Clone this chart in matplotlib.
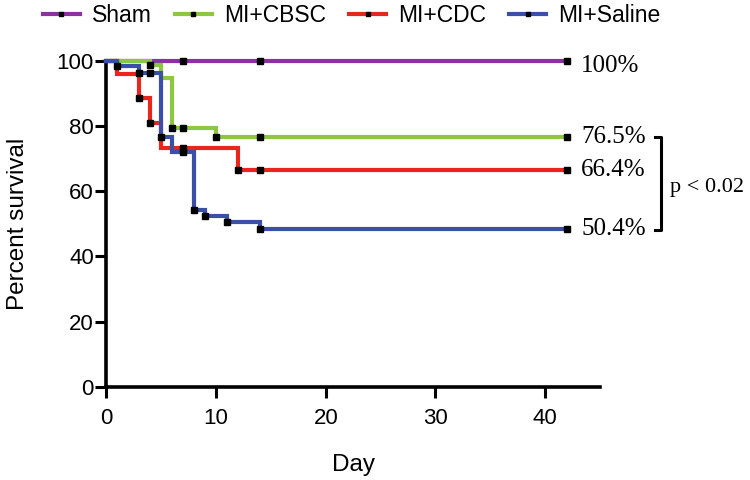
import numpy as np
import matplotlib
matplotlib.use("Agg")
import matplotlib.pyplot as plt
from matplotlib.lines import Line2D

# ----------------------------------------------------
# data (Kaplan-Meier steps)
# ----------------------------------------------------
sham_days = [0, 42]
sham_surv = [100, 100]
sham_censor = [7, 14, 42]

cbsc_days = [0, 4, 5, 6, 10, 42]
cbsc_surv = [100, 98.7, 94.6, 79.3, 76.5, 76.5]
cbsc_censor = [4, 6, 7, 10, 14, 42]

cdc_days = [0, 1, 3, 4, 5, 12, 42]
cdc_surv = [100, 95.8, 88.5, 80.8, 73.1, 66.4, 66.4]
cdc_censor = [3, 4, 7, 12, 14, 42]

saline_days = [0, 1, 3, 5, 6, 8, 9, 11, 14, 42]
saline_surv = [100, 98.4, 96.1, 76.7, 72.1, 54.2, 52.3, 50.4, 48.3, 48.3]
saline_censor = [1, 3, 4, 5, 7, 8, 9, 11, 14, 42]

groups = ["Sham", "MI+CBSC", "MI+CDC", "MI+Saline"]
end_labels = ["100%", "76.5%", "66.4%", "50.4%"]
colors = ["#8C32A0", "#8DC63F", "#E8261E", "#3B4FA8"]

series = [(sham_days, sham_surv, sham_censor),
          (cbsc_days, cbsc_surv, cbsc_censor),
          (cdc_days, cdc_surv, cdc_censor),
          (saline_days, saline_surv, saline_censor)]

plt.rcParams['font.family'] = ['Liberation Sans', 'DejaVu Sans']

fig = plt.figure(figsize=(7.5, 4.8), dpi=100)
ax = fig.add_axes([0.1419, 0.1944, 0.658, 0.679])

# ----------------------------------------------------
# step curves + censor ticks
# ----------------------------------------------------
for i, ((d, s, c), col) in enumerate(zip(series, colors)):
    ax.step(d, s, where='post', color=col, lw=3.0, zorder=2 + i,
            clip_on=False, solid_joinstyle='miter')
    d_arr = np.array(d)
    idx = np.searchsorted(d_arr, c, side='right') - 1
    cy = np.array(s)[idx]
    ax.plot(c, cy, ls='none', marker='s', ms=3.8, color='black',
            zorder=10, clip_on=False)

# end-point labels (serif like original)
for (d, s, c), lab in zip(series, end_labels):
    yy = s[-1]
    if yy > 99:
        yy = 98.4
    ax.text(43.3, yy, lab, family='Liberation Serif', fontsize=18,
            va='center', ha='left')

# bracket with p value
ax.plot([50.0, 50.6, 50.6, 50.0], [76.6, 76.6, 48.1, 48.1], color='black',
        lw=2.2, clip_on=False)
ax.text(51.4, 61, "p < 0.02", family='Liberation Serif', fontsize=16,
        va='center', ha='left')

# ----------------------------------------------------
# axes styling
# ----------------------------------------------------
ax.set_xlim(0, 45)
ax.set_ylim(0, 100)
ax.set_xticks([0, 10, 20, 30, 40])
ax.set_yticks([0, 20, 40, 60, 80, 100])
for sp in ['top', 'right']:
    ax.spines[sp].set_visible(False)
for sp in ['left', 'bottom']:
    ax.spines[sp].set_linewidth(2.6)
ax.tick_params(width=2.2, length=8, labelsize=16)
ax.tick_params(axis='y', pad=1)
ax.tick_params(axis='x', pad=7)
ax.set_xlabel("Day", fontsize=17.5, labelpad=18)
ax.set_ylabel("Percent survival", fontsize=17.5, labelpad=20)

# ----------------------------------------------------
# legend on top
# ----------------------------------------------------
handles = [Line2D([0], [0], color=col, lw=3.0, marker='s', ms=3.5,
                  mfc='black', mec='black') for col in colors]
fig.legend(handles, groups, loc='center left', bbox_to_anchor=(0.045, 0.968),
           ncol=4, frameon=False, fontsize=16.5, handlelength=1.6,
           handletextpad=0.55, columnspacing=1.0, borderaxespad=0)

fig.savefig("out.png", dpi=100)
